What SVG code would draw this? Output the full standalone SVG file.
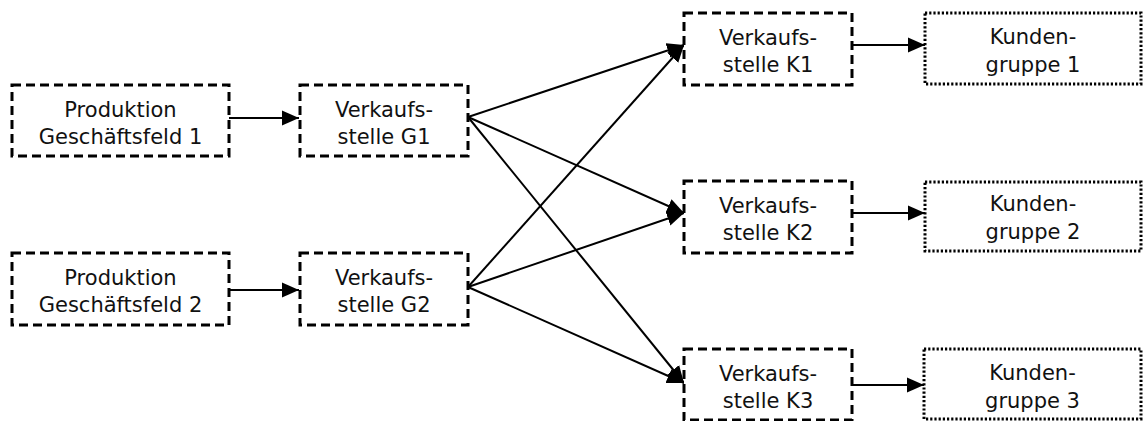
<svg xmlns="http://www.w3.org/2000/svg" width="1146" height="421" viewBox="0 0 1146 421">
  <style>
    .box { fill: #fff; stroke: #000; stroke-width: 3; stroke-dasharray: 9 5; }
    .dot { fill: #fff; stroke: #000; stroke-width: 3; stroke-dasharray: 2.2 2; }
    .lbl { font-family: "DejaVu Sans", Verdana, sans-serif; font-size: 21px; fill: #111; text-anchor: middle; }
    .link { stroke: #000; stroke-width: 2; fill: none; marker-end: url(#head); }
  </style>
  <defs>
    <marker id="head" markerUnits="userSpaceOnUse" markerWidth="18" markerHeight="16" refX="17" refY="8" orient="auto">
      <path d="M0,0.5 L17,8 L0,15.5 z" fill="#000"/>
    </marker>
  </defs>
  <rect width="1146" height="421" fill="#fff"/>

  <g id="connectors">
    <line class="link" x1="229" y1="118" x2="299" y2="118"/>
    <line class="link" x1="229" y1="290" x2="299" y2="290"/>
    <line class="link" x1="468" y1="117" x2="684" y2="45"/>
    <line class="link" x1="468" y1="117" x2="684" y2="213"/>
    <line class="link" x1="468" y1="117" x2="684" y2="383"/>
    <line class="link" x1="468" y1="287" x2="684" y2="45"/>
    <line class="link" x1="468" y1="287" x2="684" y2="213"/>
    <line class="link" x1="468" y1="287" x2="684" y2="383"/>
    <line class="link" x1="852" y1="45" x2="925" y2="45"/>
    <line class="link" x1="852" y1="213" x2="925" y2="213"/>
    <line class="link" x1="852" y1="385" x2="924" y2="385"/>
  </g>

  <g id="prod1">
    <rect class="box" x="12" y="85" width="217" height="71"/>
    <text class="lbl" x="120.5" y="117">Produktion</text>
    <text class="lbl" x="120.5" y="144">Geschäftsfeld 1</text>
  </g>
  <g id="prod2">
    <rect class="box" x="12" y="253" width="217" height="72"/>
    <text class="lbl" x="120.5" y="285">Produktion</text>
    <text class="lbl" x="120.5" y="312">Geschäftsfeld 2</text>
  </g>
  <g id="vsG1">
    <rect class="box" x="300" y="85" width="168" height="71"/>
    <text class="lbl" x="384" y="117">Verkaufs-</text>
    <text class="lbl" x="384" y="144">stelle G1</text>
  </g>
  <g id="vsG2">
    <rect class="box" x="300" y="253" width="168" height="72"/>
    <text class="lbl" x="384" y="285">Verkaufs-</text>
    <text class="lbl" x="384" y="312">stelle G2</text>
  </g>
  <g id="vsK1">
    <rect class="box" x="684" y="13" width="168" height="72"/>
    <text class="lbl" x="768" y="45">Verkaufs-</text>
    <text class="lbl" x="768" y="72">stelle K1</text>
  </g>
  <g id="vsK2">
    <rect class="box" x="684" y="181" width="168" height="72"/>
    <text class="lbl" x="768" y="213">Verkaufs-</text>
    <text class="lbl" x="768" y="240">stelle K2</text>
  </g>
  <g id="vsK3">
    <rect class="box" x="684" y="349" width="168" height="71"/>
    <text class="lbl" x="768" y="381">Verkaufs-</text>
    <text class="lbl" x="768" y="408">stelle K3</text>
  </g>
  <g id="kg1">
    <rect class="dot" x="925" y="13" width="216" height="71"/>
    <text class="lbl" x="1033" y="44">Kunden-</text>
    <text class="lbl" x="1033" y="72">gruppe 1</text>
  </g>
  <g id="kg2">
    <rect class="dot" x="925" y="182" width="216" height="69"/>
    <text class="lbl" x="1033" y="211">Kunden-</text>
    <text class="lbl" x="1033" y="239">gruppe 2</text>
  </g>
  <g id="kg3">
    <rect class="dot" x="924" y="349" width="217" height="70"/>
    <text class="lbl" x="1032.5" y="380">Kunden-</text>
    <text class="lbl" x="1032.5" y="408">gruppe 3</text>
  </g>
</svg>
